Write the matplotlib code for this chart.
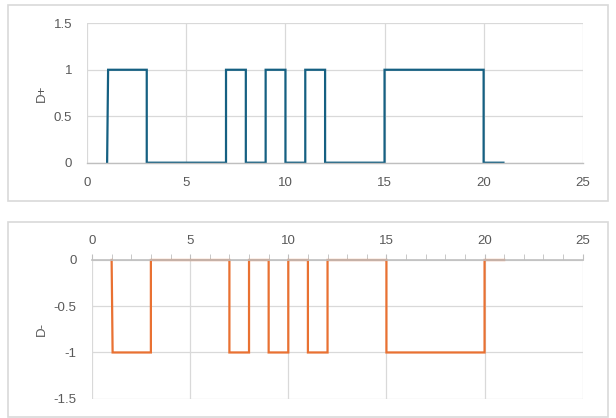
import matplotlib
matplotlib.use("Agg")
import matplotlib.pyplot as plt
from matplotlib.patches import Rectangle
from matplotlib.ticker import MultipleLocator

# Data
x_plus = [1, 1.05, 3, 3, 7, 7, 8, 8, 9, 9, 10, 10, 11, 11, 12, 12, 15, 15, 20, 20, 21]
y_plus = [0, 1, 1, 0, 0, 1, 1, 0, 0, 1, 1, 0, 0, 1, 1, 0, 0, 1, 1, 0, 0]
x_minus = [1, 1.05, 3, 3, 7, 7, 8, 8, 9, 9, 10, 10, 11, 11, 12, 12, 15, 15, 20, 20, 21]
y_minus = [0, -1, -1, 0, 0, -1, -1, 0, 0, -1, -1, 0, 0, -1, -1, 0, 0, -1, -1, 0, 0]
x_ticks = [0, 5, 10, 15, 20, 25]
y_ticks_plus = [0, 0.5, 1, 1.5]
y_ticks_minus = [0, -0.5, -1, -1.5]

W, H = 616, 418
fig = plt.figure(figsize=(W / 100, H / 100), dpi=100)
plt.rcParams['font.family'] = ['Liberation Sans', 'DejaVu Sans']

GRID = '#d9d9d9'
TXT = '#595959'
AXLINE = '#bfbfbf'

def px_rect(l, t, r, b):
    return [l / W, 1 - b / H, (r - l) / W, (b - t) / H]

# Panel borders
for (l, t, r, b) in [(7.5, 5.5, 607.5, 200.5), (7.5, 221.5, 607.5, 416.5)]:
    fig.patches.append(Rectangle((l / W, 1 - b / H), (r - l) / W, (b - t) / H,
                                 transform=fig.transFigure, fill=False,
                                 edgecolor='#d9d9d9', linewidth=1.2))

def style(ax):
    for s in ax.spines.values():
        s.set_visible(False)
    ax.grid(True, color=GRID, linewidth=0.9)
    ax.set_axisbelow(True)
    ax.tick_params(colors=TXT, labelsize=9.5, length=0)
    ax.set_xlim(0, 25)
    ax.set_xticks(x_ticks)
    ax.set_xticklabels([str(v) for v in x_ticks])

# Top chart
ax1 = fig.add_axes(px_rect(87.3, 23.3, 582.7, 162.7))
style(ax1)
ax1.set_ylim(0, 1.5)
ax1.set_yticks(y_ticks_plus)
ax1.set_yticklabels(['0', '0.5', '1', '1.5'])
ax1.spines['bottom'].set_visible(True)
ax1.spines['bottom'].set_color(AXLINE)
ax1.spines['bottom'].set_linewidth(1.0)
ax1.plot(x_plus, y_plus, color='#156082', linewidth=1.6, solid_joinstyle='miter', clip_on=False)
ax1.tick_params(axis='x', pad=10)
ax1.tick_params(axis='y', pad=11)
ax1.set_ylabel('D+', color=TXT, fontsize=9.5, labelpad=4)

# Bottom chart
ax2 = fig.add_axes(px_rect(92, 260, 582.7, 398.7))
style(ax2)
ax2.set_ylim(-1.5, 0)
ax2.set_yticks(y_ticks_minus)
ax2.set_yticklabels(['0', '-0.5', '-1', '-1.5'])
ax2.xaxis.tick_top()
ax2.spines['top'].set_visible(True)
ax2.spines['top'].set_color(AXLINE)
ax2.spines['top'].set_linewidth(1.2)
ax2.xaxis.set_minor_locator(MultipleLocator(1))
ax2.tick_params(axis='x', which='major', pad=5, length=4, color=AXLINE, direction='out')
ax2.tick_params(axis='x', which='minor', length=4, color=AXLINE, direction='out', top=True, bottom=False)
ax2.tick_params(axis='y', pad=11)
ax2.plot(x_minus, y_minus, color='#E97132', linewidth=1.6, solid_joinstyle='miter', clip_on=False)
ax2.set_ylabel('D-', color=TXT, fontsize=9.5, labelpad=4)

fig.savefig('out.png', dpi=100)
